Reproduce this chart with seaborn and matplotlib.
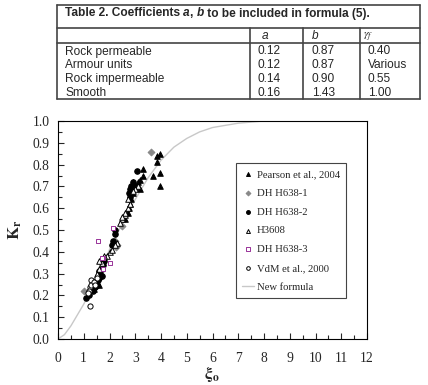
import numpy as np
import pandas as pd
import matplotlib
matplotlib.use("Agg")
import matplotlib.pyplot as plt
from matplotlib.lines import Line2D
from matplotlib.ticker import MultipleLocator, FormatStrFormatter
import seaborn as sns

# ---------------- data ----------------
title_parts = [("Table 2. Coefficients ", "normal"), ("a", "italic"), (", ", "normal"),
               ("b", "italic"), (" to be included in formula (5).", "normal")]
header_labels = ["a", "b"]
row_labels = ["Rock permeable", "Armour units", "Rock impermeable", "Smooth"]
col_a = ["0.12", "0.12", "0.14", "0.16"]
col_b = ["0.87", "0.87", "0.90", "1.43"]
col_g = ["0.40", "Various", "0.55", "1.00"]

pearson_x = [3.95, 3.85, 3.85, 3.7, 3.95, 3.95, 3.3, 3.3, 3.2, 3.2, 3.0, 2.9, 2.85, 2.8, 2.75, 2.7, 2.9, 3.1, 2.8, 2.6, 1.6, 1.4]
pearson_y = [0.85, 0.84, 0.81, 0.75, 0.76, 0.70, 0.78, 0.75, 0.73, 0.69, 0.70, 0.67, 0.64, 0.62, 0.60, 0.58, 0.72, 0.72, 0.68, 0.55, 0.25, 0.23]

dh1_x = [3.6, 1.0, 2.3, 2.2, 1.7, 2.5, 1.5, 2.25]
dh1_y = [0.86, 0.22, 0.43, 0.45, 0.35, 0.52, 0.27, 0.42]

dh2_x = [3.05, 2.9, 2.85, 2.8, 2.75, 2.8, 2.2, 2.2, 2.15, 2.1, 1.8, 1.75, 1.7, 1.65, 1.6, 1.55, 1.5, 1.45, 1.35, 1.2, 1.1, 1.6, 1.7, 1.55]
dh2_y = [0.77, 0.72, 0.70, 0.69, 0.67, 0.65, 0.50, 0.48, 0.45, 0.43, 0.36, 0.34, 0.32, 0.30, 0.28, 0.27, 0.25, 0.24, 0.22, 0.20, 0.19, 0.31, 0.29, 0.29]

h3608_x = [3.1, 3.0, 2.9, 2.7, 2.6, 2.5, 2.4, 2.3, 2.2, 2.0, 1.9, 1.8, 1.7, 1.6, 1.5, 1.4, 2.6, 2.8, 2.7, 2.5, 2.1, 1.6]
h3608_y = [0.70, 0.69, 0.68, 0.60, 0.57, 0.55, 0.53, 0.44, 0.43, 0.40, 0.38, 0.38, 0.35, 0.32, 0.30, 0.26, 0.58, 0.62, 0.64, 0.56, 0.41, 0.36]

dh3_x = [1.55, 2.15, 1.75, 2.0, 1.75, 1.7]
dh3_y = [0.45, 0.51, 0.37, 0.35, 0.32, 0.37]

vdm_x = [1.25, 1.3, 1.25, 1.2, 1.3, 1.15, 1.4, 1.5, 1.45]
vdm_y = [0.15, 0.27, 0.24, 0.22, 0.25, 0.21, 0.26, 0.28, 0.25]

curve_x = [0, 0.25, 0.5, 0.75, 1, 1.25, 1.5, 1.75, 2, 2.25, 2.5, 2.75, 3, 3.25, 3.5, 3.75, 4, 4.5, 5, 5.5, 6, 6.5, 7, 7.5, 8, 9, 10, 11, 12]
curve_y = [0, 0.02, 0.06, 0.11, 0.16, 0.22, 0.28, 0.34, 0.41, 0.47, 0.53, 0.59, 0.64, 0.69, 0.74, 0.78, 0.82, 0.88, 0.92, 0.95, 0.97, 0.98, 0.99, 0.995, 1.0, 1.0, 1.0, 1.0, 1.0]

# ---------------- style ----------------
sns.set_style("ticks")
plt.rcParams["font.family"] = ["Liberation Serif", "DejaVu Serif"]
plt.rcParams["mathtext.fontset"] = "stix"

W, H = 428, 385
fig = plt.figure(figsize=(W / 100, H / 100), dpi=100)

def fx(px):
    return px / W

def fy(py):
    return 1 - py / H

# ---------------- table ----------------
lc = "#444444"
lw = 1.2
def hline(y, x0, x1):
    fig.add_artist(Line2D([fx(x0), fx(x1)], [fy(y), fy(y)], color=lc, lw=lw, transform=fig.transFigure))
def vline(x, y0, y1):
    fig.add_artist(Line2D([fx(x), fx(x)], [fy(y0), fy(y1)], color=lc, lw=lw, transform=fig.transFigure))

tx0, tx1, ty0, ty1 = 57, 420, 5, 99
hline(ty0, tx0, tx1)
hline(ty1, tx0, tx1)
vline(tx0, ty0, ty1)
vline(tx1, ty0, ty1)
hline(28, tx0, tx1)
hline(43, tx0, tx1)
for cx in [250, 303, 360]:
    vline(cx, 28, ty1)

sans = ["Liberation Sans", "DejaVu Sans"]
FS = 8.6
renderer = fig.canvas.get_renderer()
xcur = 65
for txt, st in title_parts:
    t = fig.text(fx(xcur), fy(16.5), txt, family=sans, fontsize=FS, fontweight="bold",
                 style=st, va="baseline", ha="left")
    bb = t.get_window_extent(renderer=renderer)
    xcur += bb.width

fig.text(fx(262), fy(36), header_labels[0], family=sans, fontsize=FS, style="italic", va="center", ha="left")
fig.text(fx(312), fy(36), header_labels[1], family=sans, fontsize=FS, style="italic", va="center", ha="left")
fig.text(fx(363), fy(37), r"$\gamma_f$", fontsize=8.5, va="center", ha="left")
row_y = [51.5, 65, 79, 92.5]
for i, lab in enumerate(row_labels):
    fig.text(fx(65), fy(row_y[i]), lab, family=sans, fontsize=FS, va="center", ha="left")
    fig.text(fx(258), fy(row_y[i]), col_a[i], family=sans, fontsize=FS, va="center", ha="left")
    fig.text(fx(312), fy(row_y[i]), col_b[i], family=sans, fontsize=FS, va="center", ha="left")
    fig.text(fx(368), fy(row_y[i]), col_g[i], family=sans, fontsize=FS, va="center", ha="left")

# ---------------- chart ----------------
ax = fig.add_axes([fx(58), fy(339), fx(367) - fx(58), fy(121) - fy(339)])

sns.lineplot(x=curve_x, y=curve_y, ax=ax, color="#c8c8c8", lw=1.0, label="New formula", zorder=1)

series = [
    ("Pearson et al., 2004", pearson_x, pearson_y, "^", "black", "black", 16),
    ("DH H638-1", dh1_x, dh1_y, "D", "#888888", "#888888", 12),
    ("DH H638-2", dh2_x, dh2_y, "o", "black", "black", 16),
    ("H3608", h3608_x, h3608_y, "^", "white", "black", 16),
    ("DH H638-3", dh3_x, dh3_y, "s", "white", "#993399", 12),
    ("VdM et al., 2000", vdm_x, vdm_y, "o", "white", "black", 14),
]
for name, xs, ys, mk, fc, ec, s in series:
    sns.scatterplot(x=xs, y=ys, ax=ax, marker=mk, color=fc, edgecolor=ec, linewidth=0.7,
                    s=s, label=name, zorder=3)

ax.set_xlim(0, 12)
ax.set_ylim(0, 1.0)
ax.xaxis.set_major_locator(MultipleLocator(1))
ax.xaxis.set_minor_locator(MultipleLocator(0.5))
ax.yaxis.set_major_locator(MultipleLocator(0.1))
ax.yaxis.set_minor_locator(MultipleLocator(0.05))
ax.yaxis.set_major_formatter(FormatStrFormatter("%.1f"))
ax.tick_params(axis="both", which="both", direction="in", top=False, right=False, labelsize=9.8)
ax.tick_params(axis="both", which="major", length=4, width=0.8)
ax.tick_params(axis="both", which="minor", length=3, width=0.8)
ax.tick_params(axis="x", pad=9)
ax.tick_params(axis="y", pad=6)
for sp in ax.spines.values():
    sp.set_visible(True)
    sp.set_linewidth(0.8)
    sp.set_color("black")

ax.set_xlabel("")
ax.set_ylabel("")
fig.text(fx(212), fy(375), r"$\mathbf{\xi_o}$", fontsize=12, ha="center", va="center")
fig.text(fx(15), fy(230), r"$\mathbf{K_r}$", fontsize=12, ha="center", va="center", rotation=90)

handles, labels = ax.get_legend_handles_labels()
order = [labels.index(n) for n in [s[0] for s in series] + ["New formula"]]
leg = ax.legend([handles[i] for i in order], [labels[i] for i in order],
                loc="upper left", bbox_to_anchor=(0.576, 0.807), borderaxespad=0,
                fontsize=7.7, frameon=True, fancybox=False, edgecolor="#444444", framealpha=1,
                handlelength=1.1, handletextpad=0.25, labelspacing=0.87,
                borderpad=0.6, markerscale=0.7)
leg.get_frame().set_linewidth(0.8)

fig.savefig("out.png", dpi=100)
